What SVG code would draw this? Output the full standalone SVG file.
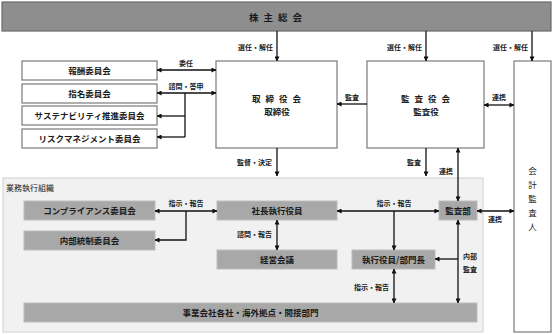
<svg xmlns="http://www.w3.org/2000/svg" width="553" height="334" viewBox="0 0 553 334">
<style>
text{font-family:"Noto Sans CJK JP","Noto Sans",sans-serif;fill:#1a1a1a}
.wb{fill:#fff;stroke:#7a7a7a;stroke-width:1.2}
.gb{fill:#a8a8a8;stroke:#bdbdbd;stroke-width:1}
.t{font-size:8.5px;font-weight:bold;text-anchor:middle}
.lb{font-size:7px;font-weight:bold}
.c{stroke:#111;stroke-width:1.3;fill:none}
</style>
<defs>
<marker id="a" viewBox="0 0 6 6" refX="5.5" refY="3" markerWidth="5" markerHeight="5" markerUnits="userSpaceOnUse" orient="auto-start-reverse"><path d="M0,0L6,3L0,6z" fill="#111"/></marker>
</defs>
<rect width="553" height="334" fill="#fff"/>
<g id="region">
<rect x="3" y="178" width="480" height="154" fill="#f1f1f1" stroke="#cfcfcf" stroke-width="1"/>
<text x="6" y="191" style="font-size:8px">業務執行組織</text>
</g>
<g id="shareholders">
<rect x="2" y="2" width="549" height="29" fill="#8e8e8e" stroke="#6a6a6a" stroke-width="1.2"/>
<text x="278" y="20.5" class="t" style="font-size:9.5px;letter-spacing:5px">株主総会</text>
</g>
<g id="c1"><rect x="22" y="61" width="135" height="19" class="wb"/><text x="89.5" y="74" class="t">報酬委員会</text></g>
<g id="c2"><rect x="22" y="84" width="135" height="19" class="wb"/><text x="89.5" y="97" class="t">指名委員会</text></g>
<g id="c3"><rect x="22" y="106" width="135" height="19" class="wb"/><text x="89.5" y="119" class="t">サステナビリティ推進委員会</text></g>
<g id="c4"><rect x="22" y="129" width="135" height="19" class="wb"/><text x="89.5" y="142" class="t">リスクマネジメント委員会</text></g>
<g id="board"><rect x="216" y="61" width="121" height="87" class="wb"/><text x="279" y="102" class="t" style="letter-spacing:5px">取締役会</text><text x="277" y="115" class="t">取締役</text></g>
<g id="audit_board"><rect x="367" y="61" width="117" height="87" class="wb"/><text x="428" y="102" class="t" style="letter-spacing:5px">監査役会</text><text x="426" y="115" class="t">監査役</text></g>
<g id="accountant"><rect x="514" y="61" width="37" height="271" class="wb"/>
<text x="532.5" y="174" class="t" style="font-weight:normal">会</text>
<text x="532.5" y="188" class="t" style="font-weight:normal">計</text>
<text x="532.5" y="202" class="t" style="font-weight:normal">監</text>
<text x="532.5" y="216" class="t" style="font-weight:normal">査</text>
<text x="532.5" y="230" class="t" style="font-weight:normal">人</text></g>
<g id="compliance"><rect x="24" y="201" width="131" height="19" class="gb"/><text x="89.5" y="214" class="t">コンプライアンス委員会</text></g>
<g id="internal"><rect x="24" y="231" width="131" height="19" class="gb"/><text x="89.5" y="244" class="t">内部統制委員会</text></g>
<g id="president"><rect x="217" y="201" width="120" height="19" class="gb"/><text x="277" y="214" class="t">社長執行役員</text></g>
<g id="mgmt"><rect x="217" y="250" width="120" height="19" class="gb"/><text x="277" y="263" class="t">経営会議</text></g>
<g id="auditdept"><rect x="439" y="201" width="38" height="19" class="gb"/><text x="458" y="214" class="t">監査部</text></g>
<g id="officers"><rect x="352" y="250" width="83" height="19" class="gb"/><text x="393.5" y="263" class="t">執行役員/部門長</text></g>
<g id="group"><rect x="24" y="303" width="453" height="19" class="gb"/><text x="250.5" y="316" class="t">事業会社各社・海外拠点・間接部門</text></g>
<g id="connectors">
<path class="c" d="M277,31V61" marker-end="url(#a)"/>
<path class="c" d="M426,31V61" marker-end="url(#a)"/>
<path class="c" d="M532,31V61" marker-end="url(#a)"/>
<path class="c" d="M157,70H216" marker-start="url(#a)" marker-end="url(#a)"/>
<path class="c" d="M157,93H216" marker-start="url(#a)" marker-end="url(#a)"/>
<path class="c" d="M185,93V137"/>
<path class="c" d="M185,116H157" marker-end="url(#a)"/>
<path class="c" d="M185,137H157" marker-end="url(#a)"/>
<path class="c" d="M367,104H337" marker-end="url(#a)"/>
<path class="c" d="M484,105H514" marker-start="url(#a)" marker-end="url(#a)"/>
<path class="c" d="M277,148V176" marker-end="url(#a)"/>
<path class="c" d="M426,148V176" marker-end="url(#a)"/>
<path class="c" d="M458,148V201" marker-start="url(#a)" marker-end="url(#a)"/>
<path class="c" d="M155,211H217" marker-start="url(#a)" marker-end="url(#a)"/>
<path class="c" d="M186,211V240H155" marker-end="url(#a)"/>
<path class="c" d="M277,220V250" marker-start="url(#a)" marker-end="url(#a)"/>
<path class="c" d="M337,211H439" marker-start="url(#a)" marker-end="url(#a)"/>
<path class="c" d="M394,211V250" marker-end="url(#a)"/>
<path class="c" d="M477,211H514" marker-start="url(#a)" marker-end="url(#a)"/>
<path class="c" d="M458,220V303" marker-start="url(#a)" marker-end="url(#a)"/>
<path class="c" d="M458,259H435" marker-end="url(#a)"/>
<path class="c" d="M394,269V303" marker-start="url(#a)" marker-end="url(#a)"/>
</g>
<g id="labels" class="lb">
<text x="273" y="50" text-anchor="end">選任・解任</text>
<text x="422" y="50" text-anchor="end">選任・解任</text>
<text x="528" y="50" text-anchor="end">選任・解任</text>
<text x="186" y="66" text-anchor="middle">委任</text>
<text x="186" y="89" text-anchor="middle">諮問・答申</text>
<text x="352" y="100" text-anchor="middle">監査</text>
<text x="499" y="100" text-anchor="middle">連携</text>
<text x="272" y="165" text-anchor="end">監督・決定</text>
<text x="421" y="165" text-anchor="end">監査</text>
<text x="453" y="174" text-anchor="end">連携</text>
<text x="186" y="206" text-anchor="middle">指示・報告</text>
<text x="394" y="206" text-anchor="middle">指示・報告</text>
<text x="495" y="222" text-anchor="middle">連携</text>
<text x="272" y="237" text-anchor="end">諮問・報告</text>
<text x="463" y="259">内部</text>
<text x="463" y="272">監査</text>
<text x="389" y="290" text-anchor="end">指示・報告</text>
</g>
</svg>
